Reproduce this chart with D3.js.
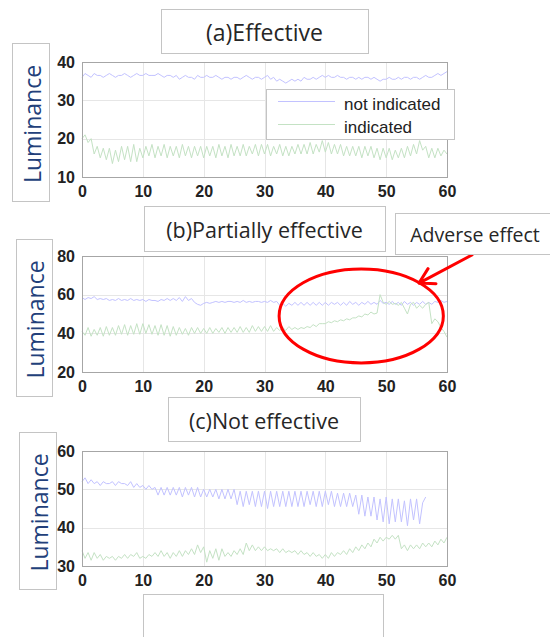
<!DOCTYPE html>
<html>
<head>
<meta charset="utf-8">
<script src="https://cdn.jsdelivr.net/npm/d3@7"></script>
<style>
  body { margin: 0; background: #fff; }
  svg { display: block; }
</style>
</head>
<body>
<svg id="chart" width="550" height="637"></svg>
<script>
// time between two samples, in seconds
const sampleStep = 0.5;
const xTicks = [0, 10, 20, 30, 40, 50, 60];
const seriesNames = ['not indicated', 'indicated'];

// (a) Effective
const effTicks = [10, 20, 30, 40];
const effNot = [
  36, 37, 36.5, 36, 37, 36.5, 36.5, 36, 36.5, 37,
  36.5, 36, 36.5, 36.5, 37, 36.5, 36, 36.5, 37, 36.5,
  36.5, 37, 36.5, 36.5, 36.5, 37, 36.5, 36, 36.5, 36.5,
  36, 36.5, 35.5, 36, 36.5, 36, 36, 35.5, 36.5, 36,
  36, 36.5, 36, 36, 36.5, 36, 35.5, 36, 36, 35.5,
  36, 36, 35.5, 36, 36.5, 36, 35.5, 36, 36, 35.5,
  36, 36.5, 35.5, 36, 35, 35.5, 35, 34.5, 35, 35.5,
  35, 35.5, 35, 36, 35.5, 35.5, 36, 35.5, 36, 36.5,
  36, 36.5, 36, 36, 36.5, 36, 36, 35.5, 36, 36,
  35.5, 36, 35.5, 36, 36, 35.5, 36, 35.5, 35, 35.5,
  35.5, 36, 35.5, 35.5, 36, 35.5, 36, 36, 35.5, 36,
  36, 35.5, 36, 36.5, 36, 36, 36.5, 37, 36.5, 37,
  37.5
];
const effInd = [
  20, 21, 19, 20, 16, 18, 15, 17.5, 14.5, 17.5,
  13.5, 17, 14, 18, 14.5, 18, 14, 18.5, 14, 17.5,
  15, 18, 15.5, 18.5, 15, 18, 15.5, 18.5, 15, 18,
  15.5, 18, 15, 18.5, 15.5, 18, 15, 18, 15.5, 18,
  15, 18, 15.5, 18, 15, 18.5, 15.5, 18, 15, 18.5,
  15.5, 18, 15.5, 18.5, 15.5, 18, 16, 18.5, 15.5, 18.5,
  16, 18.5, 15.5, 18, 16, 18.5, 15.5, 18, 15.5, 18,
  16, 18.5, 16, 18.5, 16, 19, 16, 18.5, 16.5, 19.5,
  16.5, 19, 16, 18.5, 16, 18.5, 15.5, 18, 15.5, 18,
  15.5, 18, 15, 18, 15.5, 18, 15, 17.5, 14.5, 17.5,
  15, 17.5, 14.5, 17, 15, 17.5, 15, 18, 15.5, 18.5,
  16, 19.5, 17, 18, 15, 17.5, 15, 17.5, 15.5, 17,
  16
];

// (b) Partially effective
const partTicks = [20, 40, 60, 80];
const partNot = [
  58.5, 57.5, 58.5, 58, 59, 57.5, 58, 57.5, 58, 57,
  57.5, 57, 58, 57, 57.5, 57, 58, 57, 57.5, 57,
  57.5, 56.5, 57.5, 57, 57, 56.5, 57.5, 57, 58, 57,
  58, 57, 58.5, 56.5, 59, 57, 58, 56, 55, 54.5,
  55.5, 56, 55.5, 56, 56.5, 56, 56.5, 56, 56.5, 56.5,
  56, 56.5, 56, 57, 56, 56.5, 56, 56.5, 56.5, 56,
  56.5, 56, 57, 56, 56.5, 54.5, 55.5, 54, 55.5, 54.5,
  56, 54.5, 56, 54.5, 56, 54.5, 56, 54.5, 56, 54.5,
  56, 54.5, 56, 55, 56, 54.5, 56, 54.5, 56.5, 55,
  56, 54.5, 56, 55, 56.5, 55, 56, 55, 57, 55.5,
  56, 55, 56.5, 55, 56, 54.5, 56.5, 55, 56, 54.5,
  56, 55, 56.5, 55, 56, 55, 56.5, 56, 57, 56,
  56.5
];
const partInd = [
  41, 39, 43, 38.5, 42, 39, 43, 38.5, 43.5, 39,
  43, 39, 44, 39.5, 44.5, 39, 44, 39.5, 45, 39.5,
  45, 40, 44.5, 39.5, 44, 39, 44.5, 39, 44, 38.5,
  43.5, 39, 43, 39.5, 42.5, 39, 43, 40, 43, 40,
  42.5, 40, 43, 40, 42.5, 40.5, 43, 40, 43, 40.5,
  43, 40.5, 43.5, 40.5, 43, 40.5, 44, 41, 43.5, 41,
  43.5, 41, 44, 41, 43, 41.5, 43, 41.5, 43.5, 42,
  43, 42, 43, 42.5, 43.5, 43, 44.5, 43.5, 45, 45,
  45, 46, 45.5, 46.5, 46, 47, 46.5, 47.5, 47, 48,
  48, 49, 48.5, 50, 49.5, 51, 50, 50.5, 60, 56,
  55, 56.5, 55, 55.5, 54.5, 56, 53, 50, 55, 56,
  53, 54.5, 53, 55, 56, 45, 47.5, 46, 43, 41,
  38
];

// (c) Not effective
const notTicks = [30, 40, 50, 60];
const notNot = [
  52, 53, 51.5, 52.5, 51.5, 52, 51, 52, 51.5, 51.5,
  52, 51, 52, 51.5, 51.5, 51, 52, 50.5, 51.5, 50.5,
  51, 50, 51, 50, 50.5, 48.5, 50.5, 48.5, 50.5, 48.5,
  50.5, 48.5, 50.5, 48, 50.5, 48.5, 50.5, 48, 50.5, 48,
  50, 48, 50, 48, 50, 47.5, 50, 47.5, 50, 47.5,
  50, 46, 49.5, 45.5, 49.5, 46, 49.5, 45.5, 49.5, 45.5,
  49.5, 45, 49.5, 45.5, 49.5, 45.5, 49.5, 45.5, 49.5, 45.5,
  49.5, 45.5, 49.5, 45.5, 49.5, 46, 49.5, 45.5, 49.5, 45.5,
  49.5, 46, 49.5, 45.5, 49, 45.5, 49, 45.5, 49, 45.5,
  48.5, 43.5, 48.5, 43, 48, 43, 48, 42, 47.5, 41.5,
  48, 41, 47.5, 41.5, 47.5, 41.5, 47, 40.5, 47.5, 42,
  47.5, 41, 46.5, 48
];
const notInd = [
  34, 32, 33.5, 31.5, 33.5, 32, 33, 31.5, 32.5, 32,
  32.5, 31.5, 32.5, 32, 33, 32, 33, 32.5, 33.5, 32,
  32.5, 32, 33, 32.5, 33.5, 32.5, 34, 32.5, 33.5, 32,
  33.5, 32.5, 34, 32.5, 34, 33, 34.5, 33, 35.5, 33.5,
  35, 31, 34, 32, 34.5, 31.5, 34.5, 32.5, 33.5, 32.5,
  34, 33, 34.5, 33, 36, 34, 35.5, 34, 35, 34,
  35, 34, 34.5, 34, 34.5, 33.5, 34.5, 33.5, 34, 33.5,
  34, 33, 34, 33, 33.5, 32.5, 33.5, 32.5, 33, 32,
  33, 32, 33.5, 32.5, 33.5, 33, 34, 33, 34.5, 33.5,
  35, 34, 35.5, 34.5, 36, 35, 37, 36, 37.5, 36.5,
  37.5, 37, 38, 37, 38, 34.5, 35.5, 34, 35.5, 34.5,
  35.5, 34.5, 36, 35, 36, 35, 36.5, 35.5, 37, 36,
  37.5
];

const colors = { notInd: '#c2c2ff', ind: '#c4e2c4' };
const plotLeft = 82, plotRight = 447;

const panels = [
  { title: '(a)Effective', titleSize: 23, top: 62, bottom: 177, ticks: effTicks,
    notInd: effNot, ind: effInd, titleBox: [161, 9, 207, 44], lumBox: [12, 43, 37, 158], legend: true },
  { title: '(b)Partially effective', titleSize: 21.5, top: 256, bottom: 372, ticks: partTicks,
    notInd: partNot, ind: partInd, titleBox: [144, 206, 241, 45], lumBox: [16, 239, 36, 157] },
  { title: '(c)Not effective', titleSize: 21.5, top: 451, bottom: 566, ticks: notTicks,
    notInd: notNot, ind: notInd, titleBox: [168, 397, 192, 44], lumBox: [19, 432, 37, 157] }
];

const svg = d3.select('#chart');
const boxStroke = '#c4c4c4';

function box(g, b) {
  return g.append('rect')
    .attr('x', b[0] + 0.5).attr('y', b[1] + 0.5)
    .attr('width', b[2]).attr('height', b[3])
    .attr('fill', '#fff').attr('stroke', boxStroke);
}

const x = d3.scaleLinear().domain([0, 60]).range([plotLeft, plotRight]);

panels.forEach((p, k) => {
  const g = svg.append('g');
  const y = d3.scaleLinear().domain(d3.extent(p.ticks)).range([p.bottom, p.top]);
  p.y = y;

  // "Luminance" label box
  box(g, p.lumBox);
  g.append('text')
    .attr('transform', `translate(${p.lumBox[0] + p.lumBox[2] / 2 + 1},${p.lumBox[1] + p.lumBox[3] / 2 + 2}) rotate(-90)`)
    .attr('text-anchor', 'middle').attr('dominant-baseline', 'central')
    .style('font-family', '"Open Sans", sans-serif').style('font-size', '23px')
    .attr('fill', '#22407a')
    .text('Luminance');

  // title box
  box(g, p.titleBox);
  g.append('text')
    .attr('x', p.titleBox[0] + p.titleBox[2] / 2).attr('y', p.titleBox[1] + p.titleBox[3] / 2 + 1)
    .attr('text-anchor', 'middle').attr('dominant-baseline', 'central')
    .style('font-family', '"Open Sans", sans-serif').style('font-size', p.titleSize + 'px')
    .attr('fill', '#262626')
    .text(p.title);

  // plot background + grid
  g.append('rect')
    .attr('x', plotLeft).attr('y', p.top)
    .attr('width', plotRight - plotLeft).attr('height', p.bottom - p.top)
    .attr('fill', '#fff');

  g.append('g').selectAll('line.vgrid').data(xTicks.slice(1, -1)).join('line')
    .attr('x1', d => Math.round(x(d)) + 0.5).attr('x2', d => Math.round(x(d)) + 0.5)
    .attr('y1', p.top).attr('y2', p.bottom)
    .attr('stroke', '#e6e6e6');
  g.append('g').selectAll('line.hgrid').data(p.ticks.slice(1, -1)).join('line')
    .attr('y1', d => Math.round(y(d)) + 0.5).attr('y2', d => Math.round(y(d)) + 0.5)
    .attr('x1', plotLeft).attr('x2', plotRight)
    .attr('stroke', '#e6e6e6');

  const line = d3.line()
    .x((d, i) => x(i * sampleStep))
    .y(d => y(d));

  g.append('path').datum(p.notInd)
    .attr('d', line).attr('fill', 'none')
    .attr('stroke', colors.notInd).attr('stroke-width', 1);
  g.append('path').datum(p.ind)
    .attr('d', line).attr('fill', 'none')
    .attr('stroke', colors.ind).attr('stroke-width', 1);

  // frame
  g.append('rect')
    .attr('x', plotLeft + 0.5).attr('y', p.top + 0.5)
    .attr('width', plotRight - plotLeft).attr('height', p.bottom - p.top)
    .attr('fill', 'none').attr('stroke', '#a6a6a6');

  // axes
  const xAxis = g.append('g')
    .attr('transform', `translate(0,${p.bottom})`)
    .call(d3.axisBottom(x).tickValues(xTicks).tickSize(0).tickPadding(9));
  const yAxis = g.append('g')
    .attr('transform', `translate(${plotLeft},0)`)
    .call(d3.axisLeft(y).tickValues(p.ticks).tickSize(0).tickPadding(7));
  [xAxis, yAxis].forEach(a => {
    a.select('.domain').remove();
    a.selectAll('text')
      .style('font-family', '"Liberation Sans", Arial, sans-serif')
      .style('font-size', '16px').style('font-weight', 'bold')
      .attr('fill', '#222');
  });
});

// legend in panel (a)
const lg = svg.append('g');
box(lg, [266, 89, 188, 50]);
const legendRows = [
  { name: seriesNames[0], color: colors.notInd, y: 101 },
  { name: seriesNames[1], color: colors.ind, y: 124 }
];
lg.selectAll('line.leg').data(legendRows).join('line')
  .attr('x1', 278).attr('x2', 335)
  .attr('y1', d => d.y + 0.5).attr('y2', d => d.y + 0.5)
  .attr('stroke', d => d.color);
lg.selectAll('text.leg').data(legendRows).join('text')
  .attr('x', 344).attr('y', d => d.y + 3)
  .attr('dominant-baseline', 'central')
  .style('font-family', '"Liberation Sans", Arial, sans-serif').style('font-size', '17px')
  .attr('fill', '#222')
  .text(d => d.name);

// annotation on panel (b)
const pb = panels[1];
const ann = svg.append('g');
const ring = { t: 45.9, v: 49, rt: 13.5, rv: 24.3 };
ann.append('ellipse')
  .attr('cx', x(ring.t)).attr('cy', pb.y(ring.v))
  .attr('rx', x(ring.rt) - x(0)).attr('ry', pb.y(0) - pb.y(ring.rv))
  .attr('fill', 'none').attr('stroke', '#ff0000').attr('stroke-width', 3);

const tip = [x(55.4), pb.y(66)], tail = [x(64.1), pb.y(80.5)];
const ang = Math.atan2(tail[1] - tip[1], tail[0] - tip[0]);
const head = 17;
const arm = s => [tip[0] + head * Math.cos(ang + s), tip[1] + head * Math.sin(ang + s)];
ann.append('path')
  .attr('d', d3.line()([tail, tip]) + 'M' + arm(Math.PI / 6) + 'L' + tip + 'L' + arm(-Math.PI / 6))
  .attr('fill', 'none').attr('stroke', '#ff0000').attr('stroke-width', 3)
  .attr('stroke-linecap', 'round').attr('stroke-linejoin', 'round');

box(ann, [395, 213, 160, 41]);
ann.append('text')
  .attr('x', 475).attr('y', 234)
  .attr('text-anchor', 'middle').attr('dominant-baseline', 'central')
  .style('font-family', '"Open Sans", sans-serif').style('font-size', '19.5px')
  .attr('fill', '#262626')
  .text('Adverse effect');

// empty caption box at the bottom
box(svg.append('g'), [143, 594, 240, 60]);
</script>
</body>
</html>
